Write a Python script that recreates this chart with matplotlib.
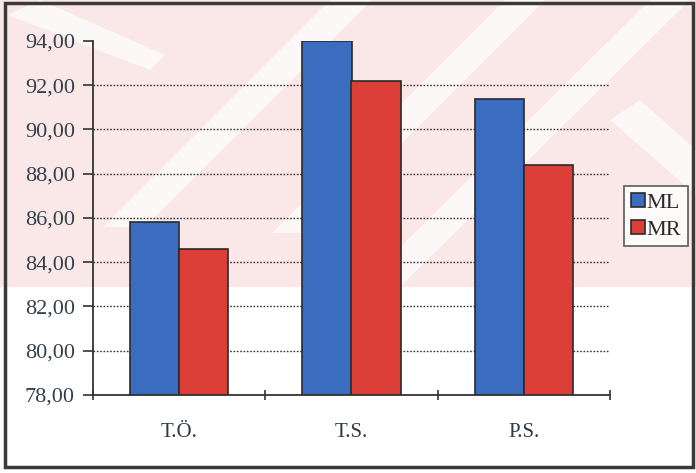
import matplotlib.pyplot as plt
import numpy as np
from matplotlib.patches import Rectangle, Polygon

categories = ['T.Ö.', 'T.S.', 'P.S.']
ml_values = [85.8, 94.0, 91.4]
mr_values = [84.6, 92.2, 88.4]
y_ticks = [78, 80, 82, 84, 86, 88, 90, 92, 94]

W, H = 696, 473
fig = plt.figure(figsize=(W / 100, H / 100), dpi=100)
plt.rcParams['font.family'] = ['Liberation Serif', 'DejaVu Serif']


def px(points):
    # pixel coords (top-left origin) -> figure fraction
    return [(x / W, 1 - y / H) for x, y in points]


# faint pink band across the top with white diagonal stripes
fig.patches.append(Rectangle((0, 1 - 287 / H), 1, 287 / H, transform=fig.transFigure,
                             facecolor='#fae8e8', edgecolor='none', zorder=-10))
stripes = [
    [(330, 0), (372, 0), (145, 227), (103, 227)],
    [(505, 0), (545, 0), (312, 233), (272, 233)],
    [(650, 0), (690, 0), (400, 287), (360, 287)],
    [(8, 15), (40, 0), (165, 55), (150, 70)],
    [(610, 120), (640, 100), (696, 150), (696, 195)],
]
for s in stripes:
    fig.patches.append(Polygon(px(s), closed=True, transform=fig.transFigure,
                               facecolor='white', edgecolor='none', alpha=0.7, zorder=-9))

ax = fig.add_axes([93 / W, 1 - 395 / H, (610 - 93) / W, (395 - 41) / H])
ax.patch.set_alpha(0)

x = np.arange(len(categories))
width = 0.285
ax.bar(x - width / 2, np.array(ml_values) - 78, width, bottom=78, color='#3a6cc0',
       edgecolor='#2a2a2a', linewidth=1.2, zorder=3, label='ML')
ax.bar(x + width / 2, np.array(mr_values) - 78, width, bottom=78, color='#dc3f38',
       edgecolor='#2a2a2a', linewidth=1.2, zorder=3, label='MR')

ax.set_xlim(-0.5, 2.5)
ax.set_ylim(78, 94)
ax.set_yticks(y_ticks)
ax.set_yticklabels([f'{v:.2f}'.replace('.', ',') for v in y_ticks], fontsize=16, color='#34404a')
for v in y_ticks[1:-1]:
    ax.axhline(v, color='#333333', linestyle=(0, (1.2, 1.2)), linewidth=1, zorder=1)

# category separators as major ticks, names on minor ticks
ax.set_xticks([-0.5, 0.5, 1.5, 2.5])
ax.set_xticklabels([])
ax.set_xticks(x, minor=True)
ax.set_xticklabels(categories, minor=True, fontsize=15, color='#2f3a44')
ax.tick_params(axis='x', which='minor', length=0, pad=20)
ax.tick_params(axis='x', which='major', length=7, width=1.2, color='#333333', direction='inout')
ax.tick_params(axis='y', length=7, width=1.2, color='#333333', pad=6)

for side in ['top', 'right']:
    ax.spines[side].set_visible(False)
for side in ['left', 'bottom']:
    ax.spines[side].set_color('#333333')
    ax.spines[side].set_linewidth(1.3)

leg = fig.legend(loc='upper left', bbox_to_anchor=(624 / W, 1 - 186 / H), fontsize=16,
                 frameon=True, fancybox=False, handlelength=0.65, handleheight=0.65,
                 handletextpad=0.05, borderpad=0.3, labelspacing=0.3, borderaxespad=0)
leg.get_frame().set_edgecolor('#333333')
leg.get_frame().set_linewidth(1.2)
leg.get_frame().set_facecolor('white')
for t in leg.get_texts():
    t.set_color('#2a2a2a')

# outer frame
fig.patches.append(Rectangle((5 / W, 6 / H), 688 / W, 464 / H, transform=fig.transFigure,
                             fill=False, edgecolor='#3a3a3a', linewidth=2.5, zorder=5))

fig.savefig('out.png', dpi=100)
